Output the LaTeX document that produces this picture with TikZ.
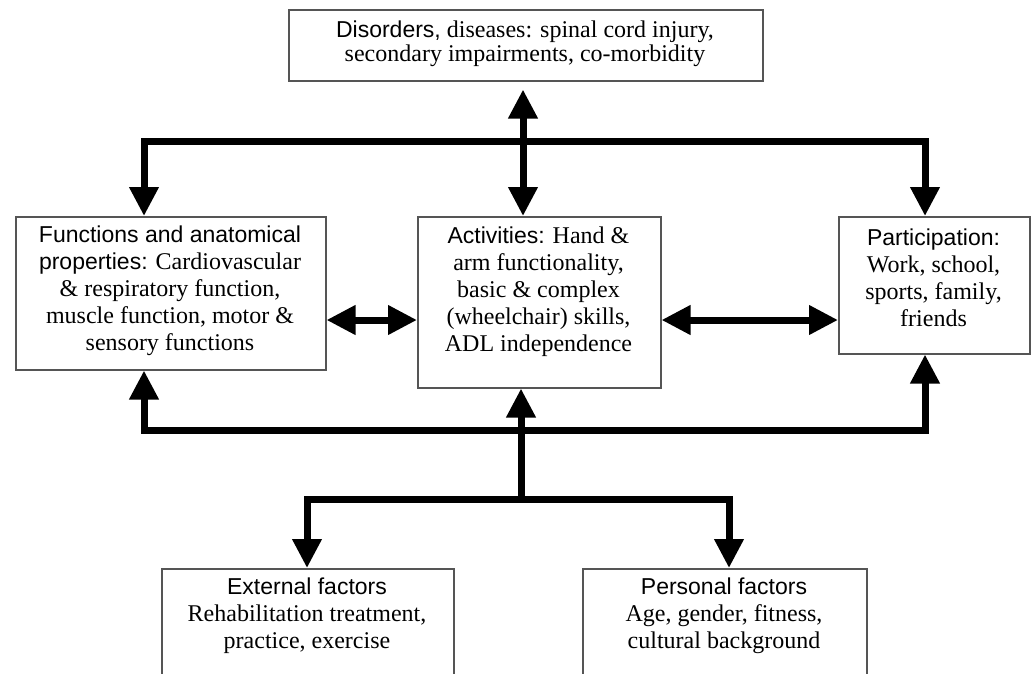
\documentclass[tikz,border=0pt]{standalone}
\usepackage{fontspec}
\setmainfont{Liberation Serif}
\setsansfont{Liberation Sans}
\usetikzlibrary{arrows.meta}
\definecolor{boxgray}{HTML}{555555}
\begin{document}
\begin{tikzpicture}[x=1pt,y=-1pt,
  box/.style={draw=boxgray, line width=1.5pt, inner sep=0pt, anchor=north west},
  txt/.style={align=center, inner sep=0pt, font=\fontsize{24}{27}\selectfont},
  link/.style={line width=7pt, line join=miter, -{Triangle[width=28pt,length=29pt]}},
  dlink/.style={line width=7pt, line join=miter, {Triangle[width=28pt,length=29pt]}-{Triangle[width=28pt,length=29pt]}},
]
\useasboundingbox (0,0) rectangle (1035,673);

% boxes
\node[box, minimum width=474pt, minimum height=71pt] (dis) at (288,9) {};
\node[box, minimum width=310pt, minimum height=153pt] (func) at (15,216) {};
\node[box, minimum width=243pt, minimum height=171pt] (act) at (417,216) {};
\node[box, minimum width=191pt, minimum height=137pt] (part) at (838,216) {};
\node[box, minimum width=292pt, minimum height=130pt] (ext) at (161,568) {};
\node[box, minimum width=284pt, minimum height=130pt] (pers) at (582,568) {};

% texts
\node[txt, font=\fontsize{24}{24}\selectfont] (disT) at (525,44)
  {{\sffamily\fontsize{23}{24}\selectfont Disorders,} diseases: spinal cord injury,\\ secondary impairments, co-morbidity};
\node[txt] (funcT) at (170,291)
  {{\sffamily\fontsize{23}{27}\selectfont Functions and anatomical}\\
   {\sffamily\fontsize{23}{27}\selectfont properties:} Cardiovascular\\
   \& respiratory function,\\ muscle function, motor \&\\ sensory functions};
\node[txt] (actT) at (538.5,292)
  {{\sffamily\fontsize{23}{27}\selectfont Activities:} Hand \&\\ arm functionality,\\ basic \& complex\\ (wheelchair) skills,\\ ADL independence};
\node[txt] (partT) at (933.5,278)
  {{\sffamily\fontsize{23}{27}\selectfont Participation:}\\ Work, school,\\ sports, family,\\ friends};
\node[txt] (extT) at (307,616)
  {{\sffamily\fontsize{23}{27}\selectfont External factors}\\ Rehabilitation treatment,\\ practice, exercise};
\node[txt] (persT) at (724,616)
  {{\sffamily\fontsize{23}{27}\selectfont Personal factors}\\ Age, gender, fitness,\\ cultural background};

% junction coordinates
\coordinate (tL) at (144,141);
\coordinate (tR) at (925,141);
\coordinate (tM) at (523,141);
\coordinate (bL) at (144,430);
\coordinate (bR) at (925,430);
\coordinate (bM) at (521,499);
\coordinate (lL) at (307,499);
\coordinate (lR) at (729,499);
\coordinate (hA) at (0,320);

% connectors
\draw[dlink] (func.north -| tL) -- (tL) -- (tR) -- (part.north -| tR);
\draw[dlink, shorten <=8pt] (dis.south -| tM) -- (act.north -| tM);
\draw[dlink] (func.east |- hA) -- (act.west |- hA);
\draw[dlink] (act.east |- hA) -- (part.west |- hA);
\draw[dlink] (func.south -| bL) -- (bL) -- (bR) -- (part.south -| bR);
\draw[link] (bM) -- (act.south -| bM);
\draw[dlink] (ext.north -| lL) -- (lL) -- (lR) -- (pers.north -| lR);
\end{tikzpicture}
\end{document}
